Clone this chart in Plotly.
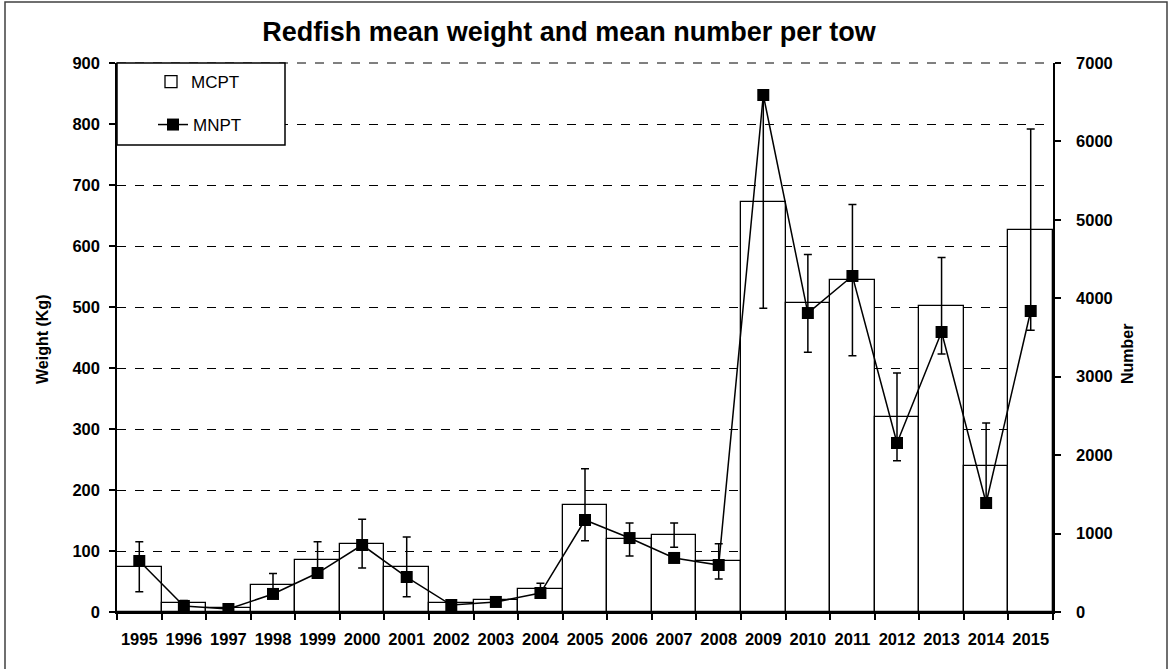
import plotly.graph_objects as go

years = [str(y) for y in range(1995, 2016)]
mcpt = [74, 15, 7, 44, 86, 112, 74, 14, 19, 38, 176, 119, 126, 83,
        672, 506, 544, 320, 502, 240, 627]
mcpt_err = [41, 4, 3, 19, 29, 40, 49, 4, 4, 9, 59, 27, 20, 29,
            174, 80, 124, 72, 79, 70, 165]
mnpt = [650, 77, 38, 230, 497, 854, 446, 89, 128, 242, 1173, 943, 689, 599,
        6592, 3812, 4284, 2155, 3570, 1390, 3838]

FONT = "Arial, Liberation Sans, sans-serif"

L, R, T, B = 117, 1053, 63, 612
W, H = 1170, 669
pw, ph = R - L, B - T


def px_x(px):
    return (px - L) / pw


def px_y(py):
    return (B - py) / ph


fig = go.Figure()
fig.add_trace(go.Bar(
    x=years, y=mcpt, name="MCPT",
    marker=dict(color="white", line=dict(color="black", width=1.3)),
    error_y=dict(type="data", array=mcpt_err, visible=True,
                 color="black", thickness=1.5, width=4),
    legend="legend",
))
fig.add_trace(go.Scatter(
    x=years, y=mnpt, name="MNPT", yaxis="y2", mode="lines+markers",
    line=dict(color="black", width=1.5),
    marker=dict(symbol="square", size=12, color="black"),
    legend="legend2",
))

tickfont = dict(size=16.5, family=FONT, color="black")

fig.update_layout(
    width=W, height=H,
    margin=dict(l=L, r=W - R, t=T, b=H - B, pad=0),
    paper_bgcolor="white", plot_bgcolor="white",
    font=dict(family=FONT, color="black", size=14),
    bargap=0,
    showlegend=True,
    title=dict(text="<b>Redfish mean weight and mean number per tow</b>",
               x=569 / W, xanchor="center", y=1 - 32 / H, yanchor="middle",
               font=dict(size=27, family=FONT, color="black")),
    xaxis=dict(type="category", range=[-0.5, len(years) - 0.5],
               showline=True, linecolor="black", linewidth=1.5,
               ticks="outside", ticklen=6, tickcolor="black", tickwidth=1.5,
               tickson="boundaries", showgrid=False, tickangle=0,
               ticklabelstandoff=11,
               tickfont=tickfont, tickprefix="<b>", ticksuffix="</b>"),
    yaxis=dict(range=[0, 900], dtick=100, showline=True, linecolor="black", linewidth=1.5,
               ticks="outside", ticklen=6, tickcolor="black", tickwidth=1.5,
               showgrid=True, gridcolor="black", gridwidth=1, griddash="dash",
               zeroline=False, tickfont=tickfont, ticklabelstandoff=6,
               tickprefix="<b>", ticksuffix="</b>"),
    yaxis2=dict(range=[0, 7000], dtick=1000, overlaying="y", side="right",
                showline=True, linecolor="black", linewidth=1.5,
                ticks="outside", ticklen=6, tickcolor="black", tickwidth=1.5,
                showgrid=False, zeroline=False, tickfont=tickfont,
                ticklabelstandoff=12,
                tickprefix="<b>", ticksuffix="</b>"),
    legend=dict(x=px_x(151), y=px_y(82), xanchor="left", yanchor="middle",
                bgcolor="rgba(0,0,0,0)", borderwidth=0,
                font=dict(size=17, family=FONT, color="black")),
    legend2=dict(x=px_x(153), y=px_y(125), xanchor="left", yanchor="middle",
                 bgcolor="rgba(0,0,0,0)", borderwidth=0,
                 font=dict(size=17, family=FONT, color="black")),
    shapes=[
        dict(type="line", xref="paper", yref="paper",
             x0=0, x1=1, y0=1, y1=1,
             line=dict(color="black", width=1, dash="dash"), layer="below"),
        dict(type="rect", xref="paper", yref="paper",
             x0=px_x(117), x1=px_x(285), y0=px_y(145), y1=px_y(63),
             line=dict(color="black", width=1.5), fillcolor="white", layer="above"),
        dict(type="rect", xref="paper", yref="paper",
             x0=px_x(5), x1=px_x(1167), y0=px_y(690), y1=px_y(2),
             line=dict(color="#404040", width=1.5), fillcolor="rgba(0,0,0,0)",
             layer="above"),
    ],
    annotations=[
        dict(text="<b>Weight (Kg)</b>", xref="paper", yref="paper",
             x=px_x(42), y=px_y(340), textangle=-90, showarrow=False,
             xanchor="center", yanchor="middle", font=dict(size=16, family=FONT)),
        dict(text="<b>Number</b>", xref="paper", yref="paper",
             x=px_x(1128), y=px_y(354), textangle=-90, showarrow=False,
             xanchor="center", yanchor="middle", font=dict(size=16, family=FONT)),
    ],
)

fig.write_html("out.html", config={"displayModeBar": False},
               post_script="document.body.style.margin='0';document.body.style.overflow='hidden';")
